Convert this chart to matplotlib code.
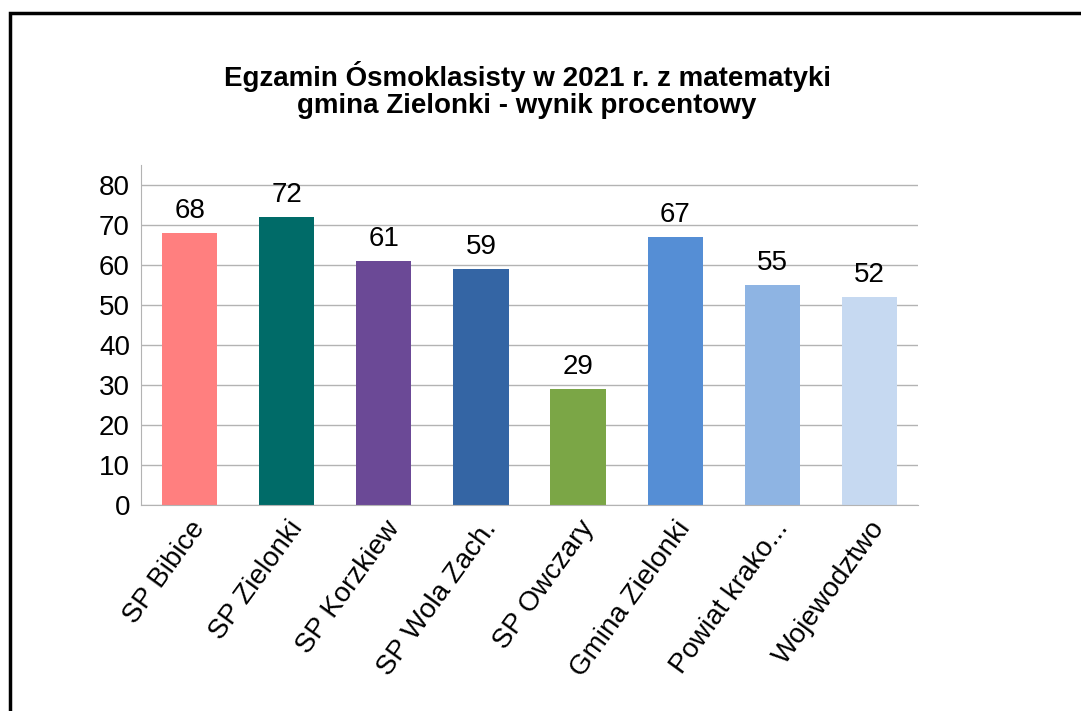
import matplotlib
matplotlib.use('Agg')
import matplotlib.pyplot as plt
from matplotlib.patches import Rectangle

categories = ['SP Bibice', 'SP Zielonki', 'SP Korzkiew', 'SP Wola Zach.', 'SP Owczary',
              'Gmina Zielonki', 'Powiat krako...', 'Wojewodztwo']
values = [68, 72, 61, 59, 29, 67, 55, 52]
colors = ['#FF7F7F', '#006B68', '#6B4996', '#3465A4', '#7BA646',
          '#558ED5', '#8EB4E3', '#C6D9F1']
yticks = [0, 10, 20, 30, 40, 50, 60, 70, 80]

plt.rcParams['font.family'] = ['Liberation Sans', 'DejaVu Sans']

fig = plt.figure(figsize=(10.81, 7.11), dpi=100)
W, H = 1081, 711

# outer frame (runs off the right and bottom edge)
fig.patches.append(Rectangle((10 / W, -0.1), 1.2, (H - 13) / H + 0.1,
                             transform=fig.transFigure, fill=False,
                             edgecolor='black', linewidth=2.5))

ax = fig.add_axes([141 / W, 1 - 505 / H, (918 - 141) / W, (505 - 165) / H])
x = range(len(categories))
ax.bar(x, values, width=0.57, color=colors, zorder=2)
for i, v in enumerate(values):
    ax.text(i, v + 2.3, str(v), ha='center', va='bottom', fontsize=20)

ax.set_xlim(-0.5, len(categories) - 0.5)
ax.set_ylim(0, 85)
ax.set_yticks(yticks)
ax.tick_params(axis='y', length=0, labelsize=20, pad=8)
ax.tick_params(axis='x', length=0, pad=8)
ax.set_xticks(list(x))
ax.set_xticklabels(categories, rotation=54, ha='right', rotation_mode='anchor', fontsize=20)
ax.grid(axis='y', color='#B3B3B3', linewidth=1, zorder=0)
for s in ['top', 'right']:
    ax.spines[s].set_visible(False)
ax.spines['left'].set_color('#B3B3B3')
ax.spines['bottom'].set_color('#B3B3B3')

fig.text(527 / W, 1 - 90 / H, 'Egzamin Ósmoklasisty w 2021 r. z matematyki\ngmina Zielonki - wynik procentowy',
         ha='center', va='center', fontsize=20, fontweight='bold', linespacing=1.05)

fig.savefig('out.png', dpi=100)
